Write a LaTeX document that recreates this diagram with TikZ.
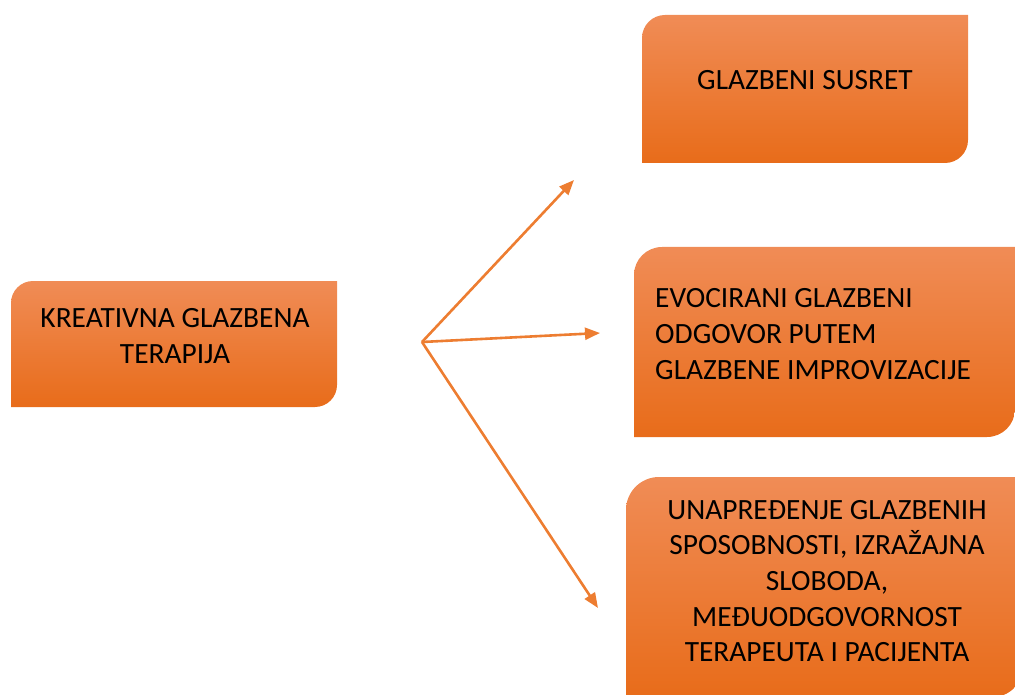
\documentclass[tikz,border=0pt]{standalone}
\usepackage{fontspec}
\setmainfont{Carlito}
\usetikzlibrary{arrows.meta,backgrounds}
\definecolor{boxtop}{RGB}{240,140,86}
\definecolor{boxmid}{RGB}{244,125,42}
\definecolor{boxbot}{RGB}{232,108,26}
\definecolor{arrowc}{RGB}{237,125,49}
\newcommand\orbox[2]{%
  \begin{scope}[on background layer]
  \shade[boxfill] (#1.south west) -- ([yshift=-#2]#1.north west)
    arc[start angle=180,end angle=90,radius=#2] -- (#1.north east)
    -- ([yshift=#2]#1.south east) arc[start angle=0,end angle=-90,radius=#2] -- cycle;
  \end{scope}}
\tikzset{
  boxfill/.style={top color=boxtop, middle color=boxmid, bottom color=boxbot},
  boxarea/.style={rectangle, inner sep=0pt, outer sep=0pt},
  boxtxt/.style={inner sep=0pt, font=\fontsize{29.4}{35.7}\selectfont, text=black},
  conn/.style={draw=arrowc, line width=2.6pt, -{Triangle[length=15pt,width=12pt]}}
}
\begin{document}
\begin{tikzpicture}[x=1pt,y=1pt]
\useasboundingbox (0,0) rectangle (1015,-695);
% box areas (x: left..right, y: top..bottom, in pixels)
\node[boxarea, minimum width=326pt, minimum height=126pt] (b1) at (174,-344) {};
\node[boxarea, minimum width=326pt, minimum height=148pt] (b2) at (805,-89) {};
\node[boxarea, minimum width=381pt, minimum height=190pt] (b3) at (824.5,-342) {};
\node[boxarea, minimum width=398pt, minimum height=220.5pt] (b4) at (825,-587.25) {};
\orbox{b1}{22pt}
\orbox{b2}{23pt}
\orbox{b3}{28pt}
\orbox{b4}{33pt}
% texts
\node[boxtxt, align=center] (t1) at (175,-336) {KREATIVNA GLAZBENA\\TERAPIJA};
\node[boxtxt, align=center] (t2) at (805,-80) {GLAZBENI SUSRET};
\node[boxtxt, align=left, anchor=west] (t3) at (655,-334) {EVOCIRANI GLAZBENI\\ODGOVOR PUTEM\\GLAZBENE IMPROVIZACIJE};
\node[boxtxt, align=center] (t4) at (827,-581) {UNAPREĐENJE GLAZBENIH\\SPOSOBNOSTI, IZRAŽAJNA\\SLOBODA,\\MEĐUODGOVORNOST\\TERAPEUTA I PACIJENTA};
% connectors
\coordinate (o) at (422,-342);
\coordinate (e1) at (574,-180);
\coordinate (e2) at (600,-333);
\coordinate (e3) at (598,-608);
\draw[conn] (o) -- (e1);
\draw[conn] (o) -- (e2);
\draw[conn] (o) -- (e3);
\end{tikzpicture}
\end{document}
